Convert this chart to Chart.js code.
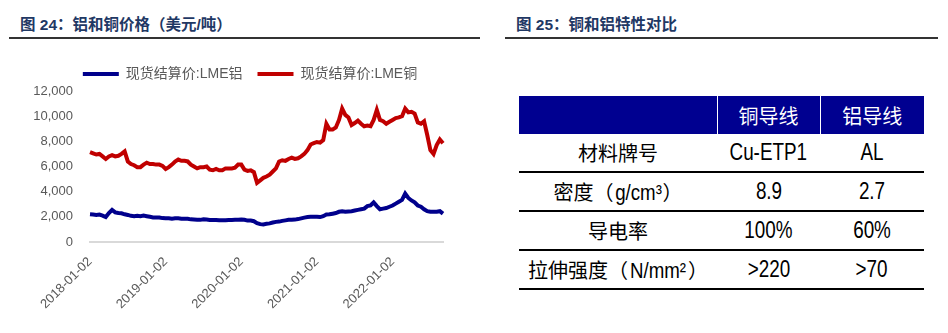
<!DOCTYPE html>
<html>
<head>
<meta charset="utf-8">
<script src="https://cdn.jsdelivr.net/npm/chart.js@4.4.0/dist/chart.umd.min.js"></script>
<style>
  body { margin: 0; width: 948px; height: 333px; background: #fff; position: relative; overflow: hidden; }
  .title { position: absolute; top: 12px; line-height: 20px; font: bold 15.5px "Liberation Sans", "Noto Sans CJK SC", sans-serif; color: #1f3864; white-space: nowrap; }
  .rule { position: absolute; top: 37px; height: 2px; background: #333; }
  #chartBox { position: absolute; left: 0; top: 52px; width: 480px; height: 281px; }
  #spec { position: absolute; left: 519px; top: 96px; width: 405px; border-collapse: collapse; table-layout: fixed; }
  #spec th { background: #000090; color: #fff; height: 38px; padding: 0; font: 400 20px "Noto Sans CJK SC", sans-serif; text-align: center; }
  #spec th + th { border-left: 1px solid #fff; }
  #spec td { height: 37px; padding: 0; border-bottom: 2px solid #000; text-align: center; color: #000;
             font: 400 23px "Liberation Sans", "Noto Sans CJK SC", sans-serif; }
  #spec td span { display: inline-block; transform: scaleX(0.82); white-space: nowrap; }
  #spec td:first-child { font-size: 20px; }
  #spec td:first-child span { transform: none; }
  #spec td:first-child span i { font-style: normal; display: inline-block; transform: scaleX(0.85); font-size: 22px; margin: 0 -3px; }
</style>
</head>
<body>

<div class="title" style="left:20px">图 24：铝和铜价格（美元/吨）</div>
<div class="rule" style="left:9px;width:471px"></div>
<div class="title" style="left:516px">图 25：铜和铝特性对比</div>
<div class="rule" style="left:505px;width:433px"></div>

<div id="chartBox"><canvas id="priceChart"></canvas></div>

<table id="spec">
  <colgroup><col style="width:198px"><col style="width:103px"><col style="width:104px"></colgroup>
  <thead><tr id="specHead"></tr></thead>
  <tbody id="specBody"></tbody>
</table>

<script>
// semi-monthly points, Jan 2018 - early Sep 2022
let yearTicks = ['2018-01-02', '2019-01-02', '2020-01-02', '2021-01-02', '2022-01-02']

let aluminium = [
  2200, 2180, 2150, 2180, 2100, 1980, 2300, 2550, 2350, 2300, 2280, 2200, 2150, 2080, 2050, 2080, 2050, 2100, 2050, 2000, 1950, 1950, 1950, 1900,
  1880, 1880, 1850, 1880, 1880, 1850, 1850, 1850, 1800, 1780, 1760, 1760, 1800, 1780, 1750, 1740, 1750, 1730, 1720, 1720, 1740, 1750, 1760, 1770,
  1780, 1760, 1700, 1700, 1650, 1500, 1420, 1400, 1450, 1480, 1550, 1600, 1620, 1680, 1720, 1760, 1760, 1780, 1820, 1880, 1940, 1980, 2000, 2000,
  2000, 1980, 2050, 2180, 2200, 2250, 2300, 2400, 2450, 2400, 2430, 2450, 2500, 2550, 2600, 2650, 2850, 2900, 3150, 2850, 2600, 2650, 2700, 2800,
  2900, 3050, 3200, 3350, 3850, 3500, 3300, 3150, 2900, 2800, 2600, 2450, 2400, 2400, 2400, 2450, 2250
]

let copper = [
  7150, 7050, 6950, 7000, 6800, 6600, 6800, 6900, 6800, 6850, 7000, 7200, 6400, 6200, 6100, 5950, 5950, 6150, 6300, 6200, 6200, 6150, 6150, 6050,
  5800, 5950, 6150, 6400, 6550, 6450, 6450, 6400, 6150, 6000, 5850, 5950, 5950, 6000, 5750, 5700, 5800, 5700, 5700, 5850, 5850, 5850, 5900, 6150,
  6150, 5750, 5650, 5700, 5550, 4700, 4900, 5100, 5200, 5350, 5600, 5850, 6400, 6500, 6450, 6600, 6700, 6600, 6650, 6800, 7000, 7300, 7750, 7850,
  7950, 7900, 8100, 9400, 8950, 8950, 9100, 9700, 10600, 10100, 9900, 9300, 9450, 9650, 9400, 9200, 9250, 9200, 9700, 10500, 9700, 9600, 9400, 9550,
  9700, 9850, 9900, 10000, 10600, 10300, 10350, 10200, 9500, 9400, 9600, 8500, 7300, 7000, 7700, 8150, 7850
]

let seriesNames = ['现货结算价:LME铝', '现货结算价:LME铜']

let specHead = ['', '铜导线', '铝导线']
let specRows = [
  ['材料牌号', 'Cu-ETP1', 'AL'],
  ['密度（<i>g/cm³</i>）', '8.9', '2.7'],
  ['导电率', '100%', '60%'],
  ['拉伸强度（<i>N/mm²</i>）', '>220', '>70']
]

// category labels: year-month + half
let periods = []
for (let y = 2018; y <= 2022; y++) {
  for (let m = 1; m <= 12; m++) {
    let mm = String(m).padStart(2, '0')
    periods.push(y + '-' + mm + '-02', y + '-' + mm + '-16')
  }
}
periods = periods.slice(0, copper.length)

let textFont = '"Liberation Sans", "Noto Sans CJK SC", sans-serif'

new Chart(document.getElementById('priceChart'), {
  type: 'line',
  data: {
    labels: periods,
    datasets: [{
      label: seriesNames[0],
      data: aluminium,
      borderColor: '#00008c',
      backgroundColor: '#00008c',
      borderWidth: 4,
      pointRadius: 0,
      tension: 0
    }, {
      label: seriesNames[1],
      data: copper,
      borderColor: '#c00000',
      backgroundColor: '#c00000',
      borderWidth: 4,
      pointRadius: 0,
      tension: 0
    }]
  },
  options: {
    responsive: true,
    maintainAspectRatio: false,
    animation: false,
    layout: { padding: { left: 20, right: 0, top: 0, bottom: 0 } },
    plugins: {
      tooltip: { enabled: false },
      legend: {
        display: true,
        position: 'top',
        labels: {
          usePointStyle: true,
          pointStyle: 'line',
          pointStyleWidth: 36,
          padding: 15,
          color: '#595959',
          font: { size: 14, family: textFont }
        }
      }
    },
    scales: {
      x: {
        grid: { display: false, drawTicks: false },
        border: { display: true, color: '#d9d9d9', width: 2 },
        ticks: {
          autoSkip: false,
          minRotation: 45,
          maxRotation: 45,
          padding: 12,
          color: '#595959',
          font: { size: 13, family: textFont },
          callback: (v, i) => i % 24 === 0 ? yearTicks[i / 24] : ''
        },
        afterFit: scale => { scale.height = 91 }
      },
      y: {
        min: 0,
        max: 12000,
        grid: { display: false, drawTicks: false },
        border: { display: false },
        ticks: {
          stepSize: 2000,
          padding: 17,
          color: '#595959',
          font: { size: 13, family: textFont },
          callback: v => v.toLocaleString('en-US')
        },
        afterFit: scale => { scale.width = 70 }
      },
      // empty right-hand axis, only keeps the plot clear of the right edge
      yRight: {
        position: 'right',
        min: 0,
        max: 12000,
        grid: { display: false, drawTicks: false },
        border: { display: false },
        ticks: { display: false },
        afterFit: scale => { scale.width = 37 }
      }
    }
  }
})

// comparison table
let headRow = document.getElementById('specHead')
specHead.forEach(t => {
  let th = document.createElement('th')
  th.textContent = t
  headRow.appendChild(th)
})
let body = document.getElementById('specBody')
specRows.forEach(r => {
  let tr = document.createElement('tr')
  r.forEach(t => {
    let td = document.createElement('td')
    td.innerHTML = '<span>' + t.replace(/>(\d)/, '&gt;$1') + '</span>'
    tr.appendChild(td)
  })
  body.appendChild(tr)
})
</script>
</body>
</html>
